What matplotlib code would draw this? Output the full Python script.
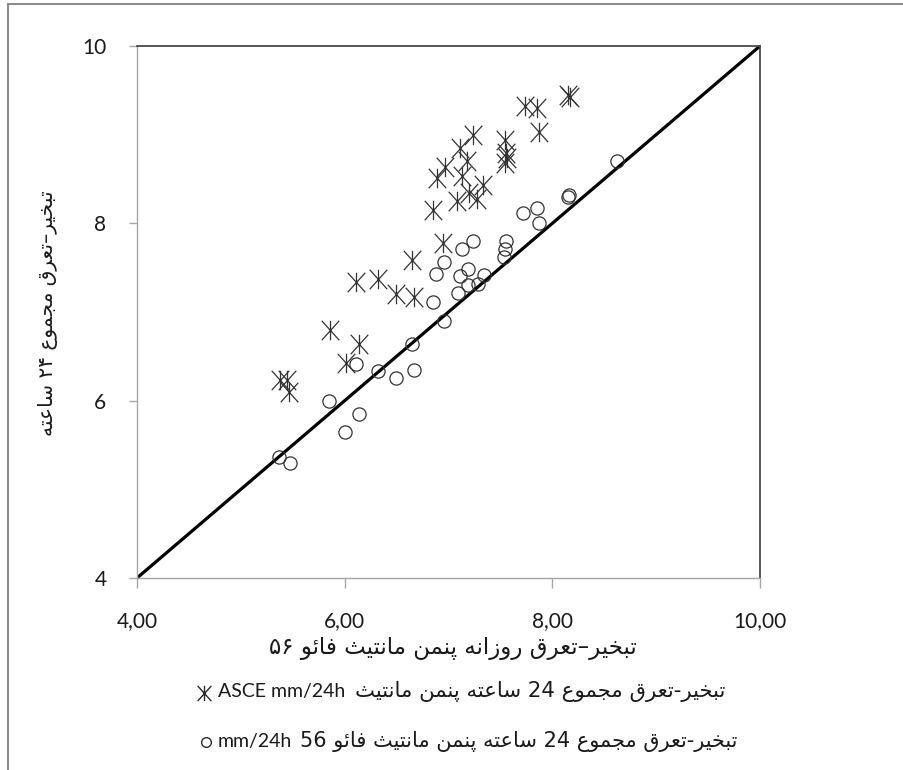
import matplotlib
matplotlib.use("Agg")
import matplotlib.pyplot as plt
from matplotlib.path import Path
from matplotlib.lines import Line2D

# ---------------- data ----------------
asce_x = [5.38, 5.44, 5.46, 5.86, 6.01, 6.14, 6.11, 6.32, 6.49, 6.67, 6.65, 6.95,
          6.85, 7.08, 7.27, 7.20, 7.33, 6.89, 6.97, 7.13, 7.18, 7.11, 7.24, 7.54,
          7.55, 7.54, 7.56, 7.87, 7.74, 7.85, 8.15, 8.17]
asce_y = [6.23, 6.23, 6.10, 6.80, 6.43, 6.64, 7.34, 7.37, 7.20, 7.17, 7.59, 7.78,
          8.15, 8.25, 8.28, 8.34, 8.43, 8.51, 8.64, 8.53, 8.70, 8.85, 9.00, 8.94,
          8.79, 8.68, 8.74, 9.03, 9.32, 9.30, 9.45, 9.42]

fao_x = [5.37, 5.47, 5.85, 6.00, 6.14, 6.11, 6.32, 6.49, 6.67, 6.65, 6.96, 6.85,
         7.09, 7.19, 7.28, 7.34, 7.11, 7.19, 6.88, 6.96, 7.13, 7.24, 7.53, 7.54,
         7.55, 7.72, 7.85, 7.87, 8.15, 8.16, 8.62]
fao_y = [5.37, 5.30, 6.00, 5.65, 5.85, 6.41, 6.33, 6.26, 6.35, 6.64, 6.90, 7.11,
         7.21, 7.30, 7.32, 7.42, 7.41, 7.49, 7.43, 7.56, 7.71, 7.80, 7.62, 7.71,
         7.80, 8.12, 8.17, 8.00, 8.30, 8.32, 8.70]

line_x = [4, 10]
line_y = [4, 10]

x_ticks = [4, 6, 8, 10]
x_tick_labels = ["4,00", "6,00", "8,00", "10,00"]
y_ticks = [4, 6, 8, 10]
y_tick_labels = ["4", "6", "8", "10"]

x_label = "تبخیر–تعرق روزانه پنمن مانتیث فائو ۵۶"
y_label = "تبخیر–تعرق مجموع ۲۴ ساعته"
legend_asce_ar = "تبخیر-تعرق مجموع 24 ساعته پنمن مانتیث"
legend_asce_lat = "ASCE mm/24h"
legend_fao_ar = "تبخیر-تعرق مجموع 24 ساعته پنمن مانتیث فائو 56"
legend_fao_lat = "mm/24h"

# ---------------- minimal Arabic shaping ----------------
FORMS = {
    '\u0627': ('\uFE8D', '\uFE8E'),
    '\u0628': ('\uFE8F', '\uFE90', '\uFE91', '\uFE92'),
    '\u062A': ('\uFE95', '\uFE96', '\uFE97', '\uFE98'),
    '\u062B': ('\uFE99', '\uFE9A', '\uFE9B', '\uFE9C'),
    '\u062C': ('\uFE9D', '\uFE9E', '\uFE9F', '\uFEA0'),
    '\u062E': ('\uFEA5', '\uFEA6', '\uFEA7', '\uFEA8'),
    '\u0631': ('\uFEAD', '\uFEAE'),
    '\u0632': ('\uFEAF', '\uFEB0'),
    '\u0633': ('\uFEB1', '\uFEB2', '\uFEB3', '\uFEB4'),
    '\u0639': ('\uFEC9', '\uFECA', '\uFECB', '\uFECC'),
    '\u0641': ('\uFED1', '\uFED2', '\uFED3', '\uFED4'),
    '\u0642': ('\uFED5', '\uFED6', '\uFED7', '\uFED8'),
    '\u0645': ('\uFEE1', '\uFEE2', '\uFEE3', '\uFEE4'),
    '\u0646': ('\uFEE5', '\uFEE6', '\uFEE7', '\uFEE8'),
    '\u0647': ('\uFEE9', '\uFEEA', '\uFEEB', '\uFEEC'),
    '\u0648': ('\uFEED', '\uFEEE'),
    '\u0626': ('\uFE89', '\uFE8A', '\uFE8B', '\uFE8C'),
    '\u067E': ('\uFB56', '\uFB57', '\uFB58', '\uFB59'),
    '\u06CC': ('\uFBFC', '\uFBFD', '\uFBFE', '\uFBFF'),
}


def shape_word(w):
    out = []
    for i, c in enumerate(w):
        if c not in FORMS:
            out.append(c)
            continue
        prev = w[i - 1] if i > 0 else None
        nxt = w[i + 1] if i + 1 < len(w) else None
        pj = prev in FORMS and len(FORMS[prev]) == 4
        nj = len(FORMS[c]) == 4 and nxt in FORMS
        f = FORMS[c]
        if pj and nj:
            out.append(f[3])
        elif pj:
            out.append(f[1])
        elif nj:
            out.append(f[2])
        else:
            out.append(f[0])
    return ''.join(out)


def rtl(text):
    res = []
    for w in reversed(text.split(' ')):
        if any(ch in FORMS for ch in w):
            res.append(shape_word(w)[::-1])
        else:
            res.append(w)
    return ' '.join(res)


# ---------------- figure ----------------
W, H = 904, 770
fig = plt.figure(figsize=(W / 100, H / 100), dpi=100)
fig.patch.set_facecolor("white")

# outer frame (left and top edges visible)
fig.add_artist(Line2D([8 / W, 8 / W], [1 - 4 / H, 0], transform=fig.transFigure,
                      color="#8c8c8c", lw=1.5))
fig.add_artist(Line2D([8 / W, 1], [1 - 4 / H, 1 - 4 / H], transform=fig.transFigure,
                      color="#8c8c8c", lw=1.5))

ax = fig.add_axes([137 / W, 1 - 578 / H, (760 - 137) / W, (578 - 46) / H])
ax.set_xlim(4, 10)
ax.set_ylim(4, 10)

star = Path([(-0.9, -1), (0.9, 1), (-0.9, 1), (0.9, -1), (0, -1), (0, 1)],
            [Path.MOVETO, Path.LINETO, Path.MOVETO, Path.LINETO, Path.MOVETO, Path.LINETO])

ax.plot(line_x, line_y, color="black", lw=2.3, zorder=2)
ax.plot(asce_x, asce_y, ls="none", marker=star, ms=14, mec="#333333", mew=0.9,
        mfc="none", zorder=3)
ax.plot(fao_x, fao_y, ls="none", marker="o", ms=9.5, mec="#333333", mew=0.9,
        mfc="none", zorder=3)

for s in ["left", "bottom"]:
    ax.spines[s].set_color("#a6a6a6")
    ax.spines[s].set_linewidth(1.0)
for s in ["top", "right"]:
    ax.spines[s].set_color("#4a4a4a")
    ax.spines[s].set_linewidth(1.3)

ax.set_xticks(x_ticks)
ax.set_xticklabels(x_tick_labels, family="Lato", fontsize=15, color="#1a1a1a")
ax.set_yticks(y_ticks)
ax.set_yticklabels(y_tick_labels, family="Lato", fontsize=15, color="#1a1a1a")
ax.tick_params(axis="x", direction="out", length=7, width=1, color="#a6a6a6", pad=17)
ax.tick_params(axis="y", direction="out", length=6, width=1, color="#a6a6a6", pad=16)

fig.text(453 / W, 1 - 648 / H, rtl(x_label), family="DejaVu Sans", fontsize=16.5,
         ha="center", va="center", color="#1a1a1a")
fig.text(48 / W, 1 - 313 / H, rtl(y_label), family="DejaVu Sans", fontsize=14.5,
         rotation=90, ha="center", va="center", color="#1a1a1a")

# legend (manual layout)
fig.add_artist(Line2D([204 / W], [1 - 693 / H], transform=fig.transFigure, ls="none",
                      marker=star, ms=11, mec="#2a2a2a", mew=1.0, mfc="none"))
fig.text(218 / W, 1 - 692 / H, legend_asce_lat, family="Lato", fontsize=14,
         va="center", ha="left", color="#1a1a1a")
fig.text(725 / W, 1 - 692 / H, rtl(legend_asce_ar), family="DejaVu Sans", fontsize=15.3,
         va="center", ha="right", color="#1a1a1a")
fig.add_artist(Line2D([206 / W], [1 - 742 / H], transform=fig.transFigure, ls="none",
                      marker="o", ms=7, mec="#2a2a2a", mew=1.0, mfc="none"))
fig.text(218 / W, 1 - 742 / H, legend_fao_lat, family="Lato", fontsize=14,
         va="center", ha="left", color="#1a1a1a")
fig.text(737 / W, 1 - 742 / H, rtl(legend_fao_ar), family="DejaVu Sans", fontsize=15,
         va="center", ha="right", color="#1a1a1a")

fig.savefig("out.png", dpi=100, facecolor="white")
